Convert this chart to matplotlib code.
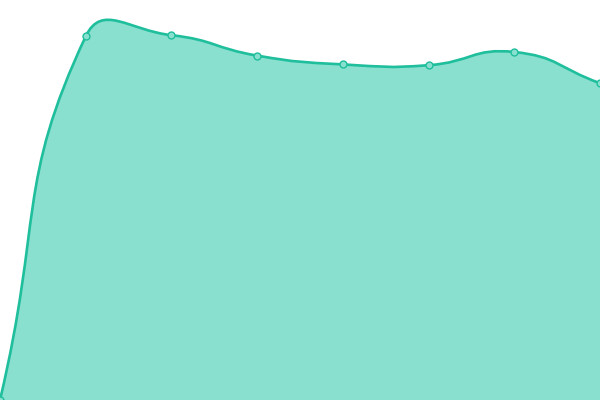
import numpy as np
import matplotlib
matplotlib.use("Agg")
import matplotlib.pyplot as plt
from matplotlib.path import Path
from matplotlib.patches import PathPatch

# data (no axes shown)
days = [0, 1, 2, 3, 4, 5, 6, 7]
values = [0, 909, 912, 861, 839, 837, 870, 792]

line_color = "#1fbe9c"
fill_color = "#89e0cf"
smooth = 0.5


def control_points(pts, smooth):
    # bezier control points around every point, in pixel space
    n = len(pts)
    cps = []
    for i in range(n):
        p = pts[i]
        prev = pts[i - 1] if i > 0 else p
        nxt = pts[i + 1] if i < n - 1 else p
        v = (nxt - prev) * smooth
        d0 = np.hypot(*(p - prev))
        d1 = np.hypot(*(p - nxt))
        s = d0 + d1
        if s > 0:
            d0, d1 = d0 / s, d1 / s
        cps.append((p - v * d0, p + v * d1))
    return cps


def smooth_path(pts, smooth):
    cps = control_points(pts, smooth)
    verts = [tuple(pts[0])]
    codes = [Path.MOVETO]
    for i in range(1, len(pts)):
        verts += [tuple(cps[i - 1][1]), tuple(cps[i][0]), tuple(pts[i])]
        codes += [Path.CURVE4] * 3
    return verts, codes


fig = plt.figure(figsize=(6, 4), dpi=100)
ax = fig.add_axes([0, 0, 1, 1])
ax.set_xlim(0, 7)
ax.set_ylim(0, 1000)
ax.axis("off")

pix = ax.transData.transform(np.column_stack([days, values]))
verts, codes = smooth_path(pix, smooth)
inv = ax.transData.inverted()
data_verts = inv.transform(np.array(verts))

line_path = Path(data_verts, codes)
area_verts = list(map(tuple, data_verts)) + [(days[-1], 0), (days[0], 0), (days[0], 0)]
area_codes = codes + [Path.LINETO, Path.LINETO, Path.CLOSEPOLY]
area_path = Path(area_verts, area_codes)

ax.add_patch(PathPatch(area_path, facecolor=fill_color, edgecolor="none", zorder=1))
ax.add_patch(PathPatch(line_path, facecolor="none", edgecolor=line_color, lw=1.9, zorder=2))
ax.plot(days, values, linestyle="none", marker="o", markersize=5,
        markerfacecolor=fill_color, markeredgecolor=line_color, markeredgewidth=1, zorder=3)

fig.savefig("out.png", dpi=100)
